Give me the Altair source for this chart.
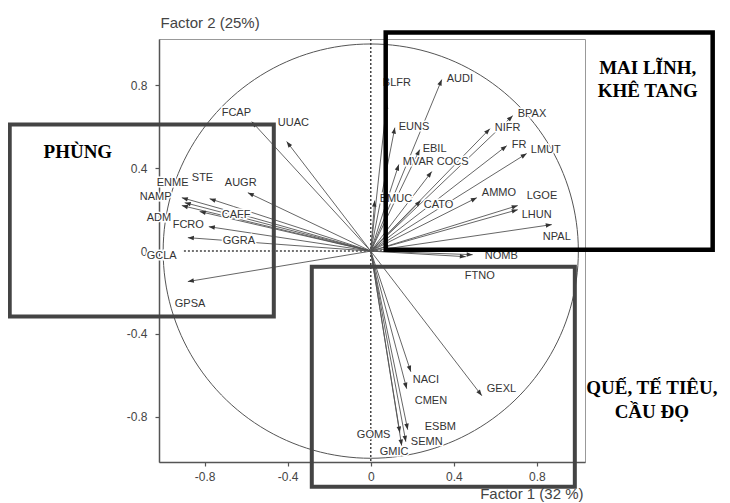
import altair as alt
import pandas as pd

# ---- variables (arrow tips) and label anchors, in factor coordinates ----
names = ["BLFR", "AUDI", "EUNS", "BPAX", "NIFR", "FR", "LMUT", "EBIL", "MVAR", "COCS",
         "BMUC", "CATO", "AMMO", "LGOE", "LHUN", "NPAL", "NOMB", "FTNO", "GEXL", "NACI",
         "CMEN", "ESBM", "GOMS", "SEMN", "GMIC", "FCAP", "UUAC", "AUGR", "ENME", "STE",
         "NAMP", "CAFF", "ADM", "FCRO", "GGRA", "GCLA", "GPSA"]
factor1 = [0.077, 0.342, 0.116, 0.684, 0.574, 0.655, 0.751, 0.236, 0.135, 0.294,
           0.019, 0.241, 0.511, 0.708, 0.708, 0.872, 0.491, 0.458, 0.535, 0.193,
           0.173, 0.178, 0.140, 0.169, 0.149, -0.573, -0.405, -0.592, -0.910, -0.776,
           -0.910, -0.824, -0.896, -0.780, -0.881, None, -0.881]
factor2 = [0.717, 0.828, 0.596, 0.654, 0.591, 0.509, 0.471, 0.490, 0.418, 0.384,
           0.244, 0.244, 0.258, 0.220, 0.200, 0.128, -0.017, -0.027, -0.698, -0.582,
           -0.664, -0.862, -0.876, -0.920, -0.939, 0.625, 0.529, 0.282, 0.258, 0.253,
           0.220, 0.191, 0.234, 0.118, 0.065, None, -0.147]
label_f1 = [0.058, 0.366, 0.135, 0.708, 0.597, 0.679, 0.771, 0.250, 0.154, 0.318,
            0.043, 0.255, 0.535, 0.751, 0.727, 0.829, 0.549, 0.453, 0.559, 0.202,
            0.212, 0.260, -0.067, 0.193, 0.043, -0.718, -0.448, -0.703, -1.031, -0.862,
            -1.113, -0.718, -1.079, -0.954, -0.713, -1.079, -0.944]
label_f2 = [0.813, 0.833, 0.601, 0.664, 0.596, 0.514, 0.490, 0.495, 0.428, 0.432,
            0.253, 0.224, 0.282, 0.268, 0.176, 0.070, -0.022, -0.118, -0.664, -0.620,
            -0.722, -0.847, -0.886, -0.920, -0.972, 0.669, 0.620, 0.331, 0.331, 0.355,
            0.263, 0.176, 0.162, 0.128, 0.051, -0.022, -0.253]

# ---- axis ticks ----
tick_values = [-0.8, -0.4, 0, 0.4, 0.8]

# ---- dashed reference lines ----
hline_from = [-0.9]
hline_to = [0.97]

# ---- region boxes (factor coordinates) ----
box_names = ["PHUNG", "MAI", "QUE"]
box_x0 = [-1.739, 0.072, -0.284]
box_x1 = [-0.467, 1.647, 0.983]
box_y0 = [0.611, 1.055, -0.075]
box_y1 = [-0.316, 0.007, -1.137]

region_text = ["PHÙNG", "MAI LĨNH,", "KHÊ TANG", "QUẾ, TẾ TIÊU,", "CẦU ĐỌ"]
region_x = [-1.411, 1.334, 1.334, 1.354, 1.354]
region_y = [0.480, 0.886, 0.772, -0.659, -0.775]

df = pd.DataFrame({"name": names, "f1": factor1, "f2": factor2,
                   "lx": label_f1, "ly": label_f2})
boxes = pd.DataFrame({"box": box_names, "x0": box_x0, "x1": box_x1,
                      "y0": box_y0, "y1": box_y1})
regions = pd.DataFrame({"t": region_text, "x": region_x, "y": region_y})

xs = alt.Scale(domain=[-1.02, 1.032], nice=False, zero=False)
ys = alt.Scale(domain=[-1.018, 1.024], nice=False, zero=False)

lab = ("datum.value == 0 ? '0' : (datum.value < 0 ? '-' + format(-datum.value, '.1f')"
       " : format(datum.value, '.1f'))")
xa = alt.Axis(values=tick_values, labelExpr=lab, grid=False, title="Factor 1 (32 %)",
              titleX=424, titleY=31, titleAlign="right", titleBaseline="middle")
ya = alt.Axis(values=tick_values, labelExpr=lab, grid=False, title="Factor 2 (25%)",
              titleX=1, titleY=-17, titleAngle=0, titleAlign="left",
              titleBaseline="middle")


def X(f):
    return alt.X(f, type="quantitative", scale=xs, axis=xa)


def Y(f):
    return alt.Y(f, type="quantitative", scale=ys, axis=ya)


circle = alt.Chart(alt.sequence(0, 362, 2, as_="t")).transform_calculate(
    cx="cos(datum.t * PI / 180)", cy="sin(datum.t * PI / 180)"
).mark_line(color="#555", strokeWidth=1).encode(
    x=X("cx"), y=Y("cy"), order="t:Q")

vline = alt.Chart(pd.DataFrame({"v": [0]})).mark_rule(
    color="#444", strokeWidth=1.5, strokeDash=[2, 2]).encode(x=X("v"))

hline = alt.Chart(pd.DataFrame({"a": hline_from, "b": hline_to, "v": [0]})).mark_rule(
    color="#444", strokeWidth=1.5, strokeDash=[2, 2]).encode(
    x=X("a"), x2="b:Q", y=Y("v"))

arrows_base = alt.Chart(df).transform_filter("isValid(datum.f1)").transform_calculate(
    ox="0", oy="0",
    ang="(atan2(datum.f1, datum.f2) * 180 / PI + 360) % 360")

lines = arrows_base.mark_rule(color="#555", strokeWidth=0.9).encode(
    x=X("ox"), y=Y("oy"), x2="f1:Q", y2="f2:Q")

heads = arrows_base.mark_point(
    shape="M0,0L-0.75,2L0.75,2Z", filled=True, size=36, color="#333", opacity=1
).encode(x=X("f1"), y=Y("f2"), angle=alt.Angle("ang:Q", scale=None))

halo = alt.Chart(df).mark_text(
    align="left", baseline="middle", font="Liberation Sans", fontSize=11,
    stroke="white", strokeWidth=3, fill="white").encode(
    x=X("lx"), y=Y("ly"), text="name:N")

labels = alt.Chart(df).mark_text(
    align="left", baseline="middle", font="Liberation Sans", fontSize=11,
    color="#333").encode(x=X("lx"), y=Y("ly"), text="name:N")

gray_boxes = alt.Chart(boxes).transform_filter("datum.box != 'MAI'").mark_rect(
    fillOpacity=0, stroke="#444", strokeWidth=4).encode(
    x=X("x0"), x2="x1:Q", y=Y("y0"), y2="y1:Q")

black_box = alt.Chart(boxes).transform_filter("datum.box == 'MAI'").mark_rect(
    fillOpacity=0, stroke="#000", strokeWidth=4.5).encode(
    x=X("x0"), x2="x1:Q", y=Y("y0"), y2="y1:Q")

region_labels = alt.Chart(regions).mark_text(
    align="center", baseline="middle", font="Liberation Serif", fontSize=19,
    fontWeight="bold", color="#000").encode(x=X("x"), y=Y("y"), text="t:N")

chart = alt.layer(
    circle, vline, hline, lines, heads, halo, labels, gray_boxes, black_box,
    region_labels
).properties(
    width=426, height=423,
    autosize=alt.AutoSizeParams(type="none"),
    padding={"left": 151, "top": 31, "right": 137, "bottom": 60},
).configure_view(stroke="#999", strokeWidth=1).configure_axis(
    domainColor="#555", domainWidth=1.5, tickColor="#555", tickWidth=1.2,
    tickSize=4, labelColor="#444", labelFont="Liberation Sans", labelFontSize=12,
    labelPadding=8, titleFont="Liberation Sans", titleFontSize=15,
    titleFontWeight="normal", titleColor="#444"
).configure_axisX(labelPadding=5)

chart.save("out.html", embed_options={"renderer": "svg", "actions": False})
